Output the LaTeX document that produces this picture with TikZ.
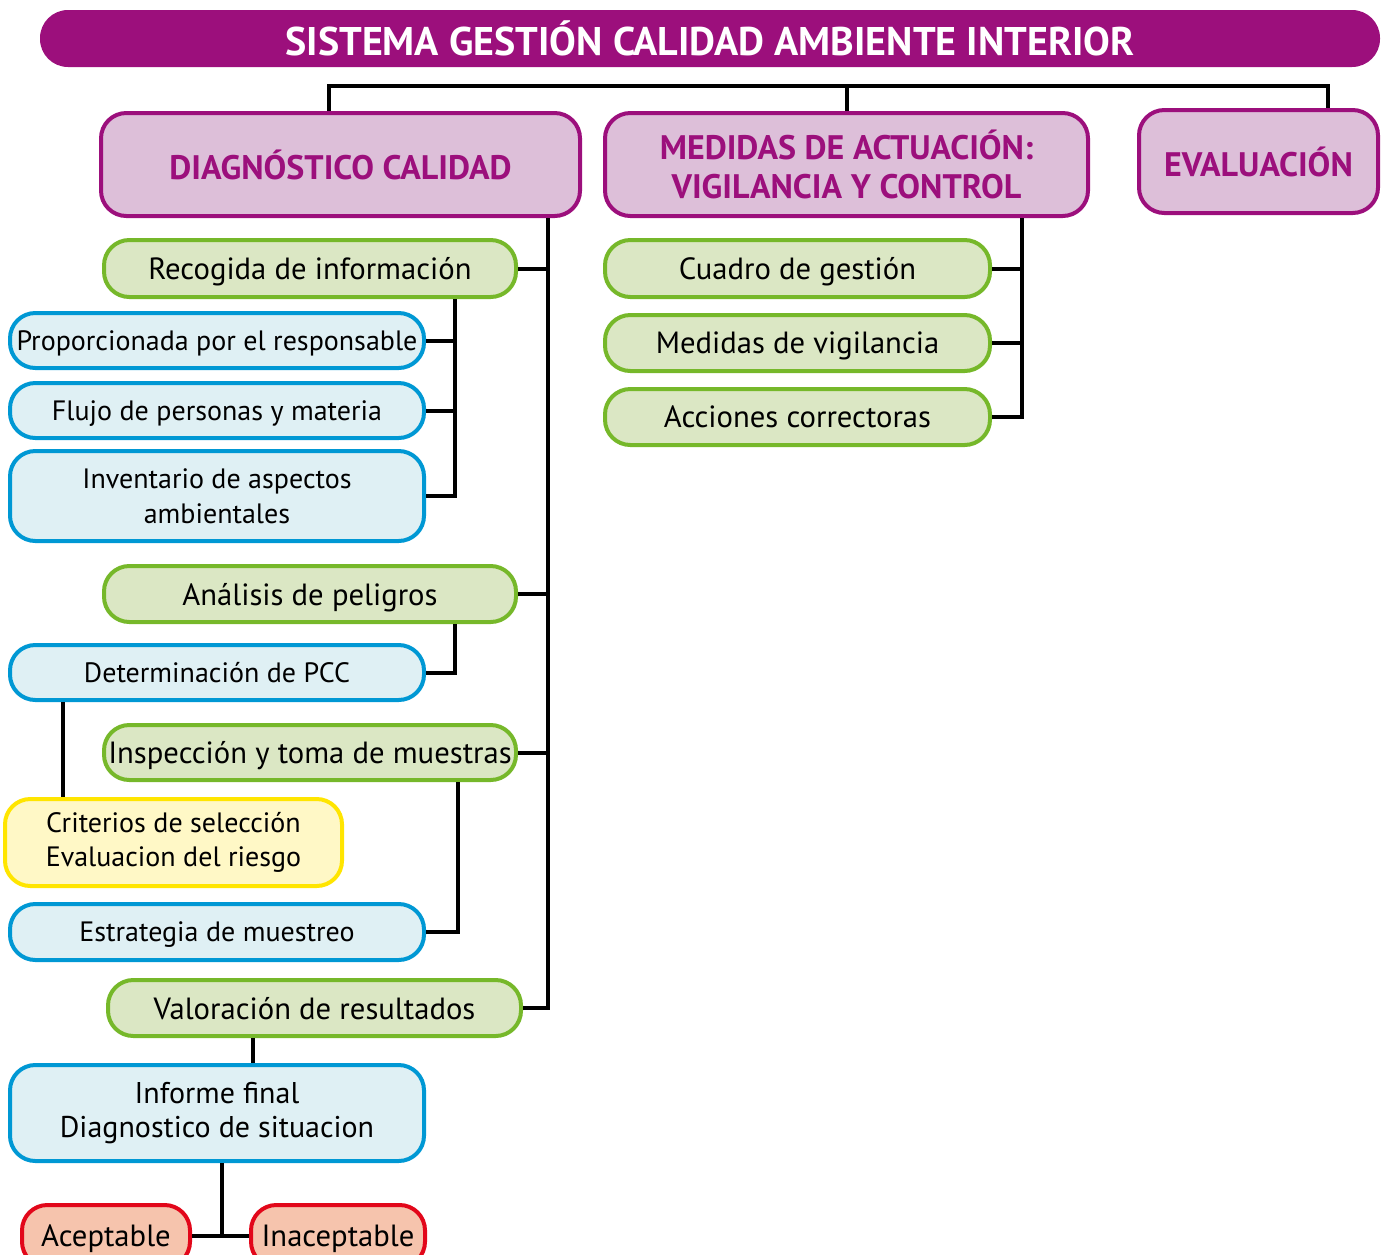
\documentclass[tikz,border=0pt]{standalone}
\usepackage{fontspec}
\setmainfont{PT Sans}
\definecolor{purp}{HTML}{9C0F7C}
\definecolor{hfill}{HTML}{DDBFD9}
\definecolor{gbord}{HTML}{76B82A}
\definecolor{gfill}{HTML}{DBE7C4}
\definecolor{bbord}{HTML}{0098D4}
\definecolor{bfill}{HTML}{DFF0F4}
\definecolor{ybord}{HTML}{FFE500}
\definecolor{yfill}{HTML}{FFF8C6}
\definecolor{rbord}{HTML}{E2071A}
\definecolor{rfill}{HTML}{F6C4AD}
\tikzset{
  box/.style={rounded corners=19pt, line width=3pt, inner sep=0pt, align=center,
    font=\fontsize{23}{26}\selectfont},
  oneline/.style={text depth=0pt},
  hbox/.style={box, draw=purp, fill=hfill, text=purp,
    font=\bfseries\fontsize{25.5}{29}\selectfont},
  gbox/.style={box, oneline, draw=gbord, fill=gfill},
  bbox/.style={box, oneline, draw=bbord, fill=bfill, font=\fontsize{21}{26}\selectfont},
  mbbox/.style={box, draw=bbord, fill=bfill, font=\fontsize{21}{26}\selectfont},
  bigbbox/.style={box, draw=bbord, fill=bfill, font=\fontsize{22.5}{26}\selectfont},
  ybox/.style={box, draw=ybord, fill=yfill, font=\fontsize{21}{25}\selectfont},
  rbox/.style={box, oneline, draw=rbord, fill=rfill},
  tbox/.style={fill=purp, rounded corners=21pt, inner sep=0pt, text=white,
    font=\bfseries\fontsize{30}{36}\selectfont},
  conn/.style={line width=3pt, black}
}
% #1 name, #2 style, #3-#6 corners in px, #7 text
\newcommand\mybox[7]{%
  \pgfmathsetmacro\mbcx{(#3+#5)/2}%
  \pgfmathsetmacro\mbcy{(#4+#6)/2}%
  \pgfmathsetmacro\mbw{(#5-#3)*0.75}%
  \pgfmathsetmacro\mbh{(#6-#4)*0.75}%
  \node[#2, minimum width=\mbw pt, minimum height=\mbh pt] (#1) at (\mbcx,\mbcy) {#7};}
\begin{document}
\begin{tikzpicture}[x=0.75pt,y=-0.75pt]
\useasboundingbox (0,0) rectangle (1384,1254);
\clip (0,0) rectangle (1384,1254);
% title
\mybox{title}{tbox}{40}{10}{1380}{67}{SISTEMA GESTIÓN CALIDAD AMBIENTE INTERIOR}
% headers
\mybox{diag}{hbox}{101}{113}{580}{216}{DIAGNÓSTICO CALIDAD}
\mybox{med}{hbox}{605}{113}{1088}{216}{MEDIDAS DE ACTUACIÓN:\\VIGILANCIA Y CONTROL}
\mybox{eval}{hbox}{1139}{110}{1378}{213}{EVALUACIÓN}
% left column
\mybox{recog}{gbox}{104}{240}{516}{297}{Recogida de información}
\mybox{prop}{bbox}{10}{313}{424}{368}{Proporcionada por el responsable}
\mybox{flujo}{bbox}{10}{383}{424}{438}{Flujo de personas y materia}
\mybox{inv}{mbbox}{10}{451}{424}{541}{Inventario de aspectos\\ambientales}
\mybox{anal}{gbox}{104}{566}{516}{622}{Análisis de peligros}
\mybox{det}{bbox}{10}{645}{424}{700}{Determinación de PCC}
\mybox{insp}{gbox}{104}{725}{516}{780}{Inspección y toma de muestras}
\mybox{crit}{ybox}{5}{799}{342}{886}{Criterios de selección\\Evaluacion del riesgo}
\mybox{estr}{bbox}{10}{904}{424}{960}{Estrategia de muestreo}
\mybox{val}{gbox}{108}{980}{521}{1036}{Valoración de resultados}
\mybox{inf}{bigbbox}{10}{1065}{424}{1161}{Informe final\\Diagnostico de situacion}
\mybox{acep}{rbox}{22}{1205}{190}{1267}{Aceptable}
\mybox{inac}{rbox}{251}{1205}{425}{1267}{Inaceptable}
% right column
\mybox{cuad}{gbox}{605}{240}{990}{297}{Cuadro de gestión}
\mybox{medv}{gbox}{605}{315}{990}{371}{Medidas de vigilancia}
\mybox{acc}{gbox}{605}{389}{990}{445}{Acciones correctoras}
% top connectors
\coordinate (c1) at (329,86);
\coordinate (c3) at (1328,86);
\draw[conn] (c1 |- diag.north) -- (c1) -- (c3) -- (c3 |- eval.north);
\draw[conn] (med.north) -- (med.north |- c1);
% main left trunk
\coordinate (t1) at (548,0);
\draw[conn] (diag.south -| t1) -- (val.east -| t1) -- (val.east);
\draw[conn] (recog.east) -- (recog.east -| t1);
\draw[conn] (anal.east) -- (anal.east -| t1);
\draw[conn] (insp.east) -- (insp.east -| t1);
% recogida sub
\coordinate (t3) at (455,0);
\draw[conn] (recog.south -| t3) -- (inv.east -| t3) -- (inv.east);
\draw[conn] (prop.east) -- (prop.east -| t3);
\draw[conn] (flujo.east) -- (flujo.east -| t3);
% analisis sub
\draw[conn] (anal.south -| t3) -- (det.east -| t3) -- (det.east);
\coordinate (t4) at (63,0);
\draw[conn] (det.south -| t4) -- (crit.north -| t4);
% inspeccion sub
\coordinate (t5) at (458,0);
\draw[conn] (insp.south -| t5) -- (estr.east -| t5) -- (estr.east);
% valoracion -> informe
\coordinate (t6) at (253,0);
\draw[conn] (val.south -| t6) -- (inf.north -| t6);
\coordinate (t7) at (222,0);
\draw[conn] (inf.south -| t7) -- (acep.east -| t7);
\draw[conn] (acep.east) -- (inac.west);
% right trunk
\coordinate (t2) at (1022,0);
\draw[conn] (med.south -| t2) -- (acc.east -| t2) -- (acc.east);
\draw[conn] (cuad.east) -- (cuad.east -| t2);
\draw[conn] (medv.east) -- (medv.east -| t2);
\end{tikzpicture}
\end{document}
